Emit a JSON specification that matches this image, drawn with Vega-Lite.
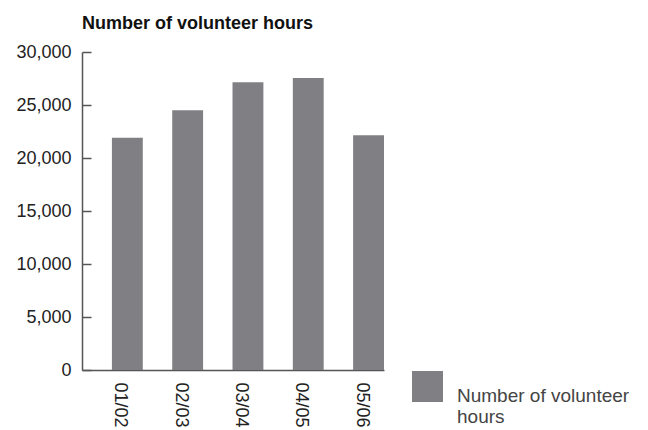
{
  "$schema": "https://vega.github.io/schema/vega-lite/v6.json",
  "width": 302,
  "height": 318,
  "autosize": {"type": "none"},
  "padding": {"left": 82, "top": 52, "right": 264, "bottom": 60},
  "background": "white",
  "config": {
    "font": "Liberation Sans",
    "view": {"stroke": null}
  },
  "title": {
    "text": "Number of volunteer hours",
    "anchor": "start",
    "frame": "group",
    "fontSize": 18,
    "fontWeight": "bold",
    "color": "#111111",
    "baseline": "alphabetic",
    "offset": -4
  },
  "data": {
    "values": [
      {"year": "01/02", "hours": 21900, "series": "Number of volunteer hours"},
      {"year": "02/03", "hours": 24500, "series": "Number of volunteer hours"},
      {"year": "03/04", "hours": 27150, "series": "Number of volunteer hours"},
      {"year": "04/05", "hours": 27550, "series": "Number of volunteer hours"},
      {"year": "05/06", "hours": 22150, "series": "Number of volunteer hours"}
    ]
  },
  "mark": {"type": "bar"},
  "encoding": {
    "x": {
      "field": "year",
      "type": "nominal",
      "sort": null,
      "scale": {"paddingInner": 0.488, "paddingOuter": 0.248, "align": 1},
      "axis": {
        "title": null,
        "labelAngle": 90,
        "labelFontSize": 18,
        "labelColor": "#222222",
        "labelPadding": 12,
        "labelOffset": -7,
        "ticks": false,
        "domainColor": "#555555",
        "domainWidth": 1.5
      }
    },
    "y": {
      "field": "hours",
      "type": "quantitative",
      "scale": {"domain": [0, 30000], "nice": false},
      "axis": {
        "title": null,
        "values": [0, 5000, 10000, 15000, 20000, 25000, 30000],
        "format": ",d",
        "grid": false,
        "tickSize": -9,
        "tickColor": "#555555",
        "tickWidth": 1.5,
        "domainColor": "#555555",
        "domainWidth": 1.5,
        "labelFontSize": 18,
        "labelColor": "#222222",
        "labelPadding": 20
      }
    },
    "color": {
      "field": "series",
      "type": "nominal",
      "scale": {"range": ["#808084"]},
      "legend": {
        "title": null,
        "orient": "none",
        "legendX": 330,
        "legendY": 319,
        "symbolType": "square",
        "symbolSize": 961,
        "symbolStrokeWidth": 0,
        "symbolOpacity": 1,
        "labelFontSize": 19,
        "labelColor": "#444444",
        "labelOffset": 14,
        "labelBaseline": "top",
        "labelLineHeight": 21,
        "labelLimit": 300,
        "labelExpr": "['Number of volunteer', 'hours']"
      }
    }
  }
}
